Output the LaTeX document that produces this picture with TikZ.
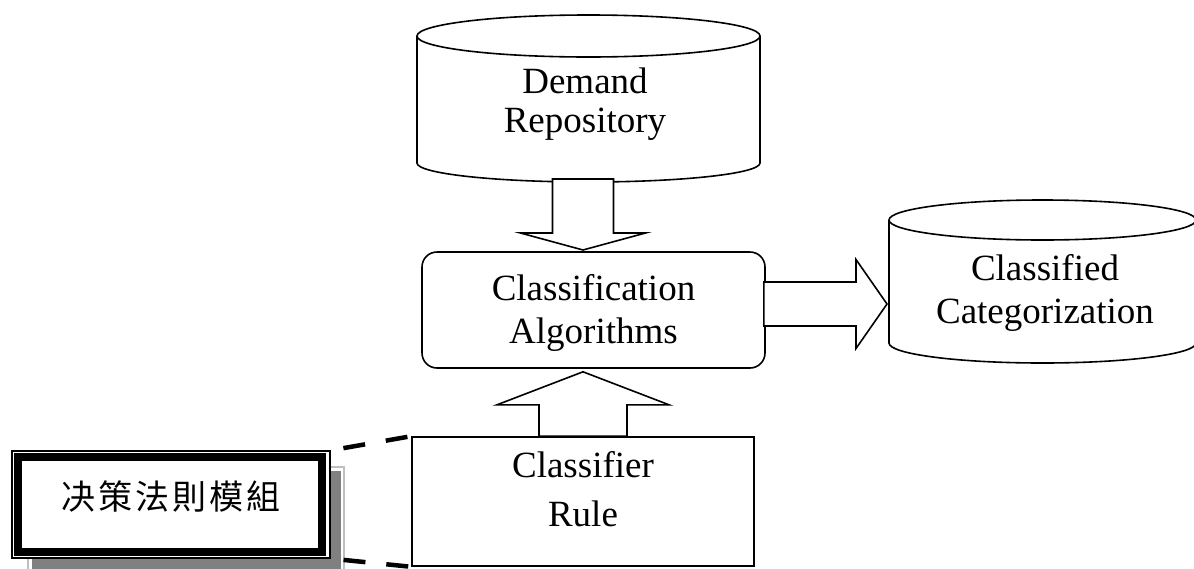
\documentclass[tikz,border=0pt]{standalone}
\usepackage{fontspec}
\setmainfont{Liberation Serif}
\newfontfamily\cjk{Noto Sans CJK TC}
\usetikzlibrary{calc}

\tikzset{
  outline/.style={draw=black, line width=1.6pt},
  txt/.style={align=center, inner sep=0pt, font=\fontsize{37}{43}\selectfont},
  plainbox/.style={outline, fill=white, inner sep=0pt},
  fatarrow/.style={outline, fill=white, line join=miter},
  linkdash/.style={line width=4.5pt, dash pattern=on 22pt off 21pt, dash phase=30pt},
}

% block arrow: tail, tip, shaft half-width, head half-width, head length
\newcommand\fatarrow[5]{%
  \coordinate (fa-base) at ($(#2)!#5!(#1)$);
  \draw[fatarrow] ($(#1)!#3!90:(#2)$) -- ($(fa-base)!#3!90:(#2)$)
    -- ($(fa-base)!#4!90:(#2)$) -- (#2) -- ($(fa-base)!#4!-90:(#2)$)
    -- ($(fa-base)!#3!-90:(#2)$) -- ($(#1)!#3!-90:(#2)$) -- cycle;
}

\begin{document}
\begin{tikzpicture}[x=1pt, y=1pt]
\useasboundingbox (0,0) rectangle (1194,-568);

% Demand Repository store
\draw[outline, fill=white] (417,-36) -- (417,-163)
  arc[start angle=180, end angle=360, x radius=171.5, y radius=19] -- (760,-36);
\draw[outline] (588.5,-36) ellipse [x radius=171.5, y radius=21];
\node[txt, font=\fontsize{37}{39}\selectfont] (demand) at (585,-104) {Demand\\Repository};

% Classified Categorization store
\draw[outline, fill=white] (889,-220) -- (889,-343)
  arc[start angle=180, end angle=360, x radius=153.5, y radius=20] -- (1196,-220);
\draw[outline] (1042.5,-220) ellipse [x radius=153.5, y radius=20];
\node[txt] (classified) at (1045,-293) {Classified\\Categorization};

% Classification Algorithms
\node[plainbox, rounded corners=15pt, minimum width=343pt, minimum height=116pt] (alg) at (593.5,-310) {};
\node[txt] (alg-text) at ($(alg.center)+(0,-3)$) {Classification\\Algorithms};

% Classifier Rule
\node[plainbox, minimum width=342pt, minimum height=129pt] (rule) at (583,-501.5) {};
\node[txt, font=\fontsize{37}{49}\selectfont] (rule-text) at ($(rule.center)+(0,12.6)$) {Classifier\\Rule};

% module box with drop shadow
\draw[draw=gray!50, line width=1.2pt, fill=white] (28,-467) rectangle (344,-585);
\fill[gray] (31.5,-470.5) rectangle (340.5,-585);
\node[draw=black, line width=1.2pt, fill=white, inner sep=0pt,
      minimum width=318pt, minimum height=107pt] (module) at (171,-504.5) {};
\draw[line width=8pt] ($(module.north west)+(7,-6.5)$) rectangle ($(module.south east)+(-9,7)$);
\node[inner sep=0pt, font=\cjk\fontsize{34}{34}\selectfont] (module-text) at (171,-496)
  {决\hspace{3pt}策\hspace{3pt}法\hspace{3pt}則\hspace{3pt}模\hspace{3pt}組};

% dashed links from the module to the rule box
\draw[linkdash] (module.north east) -- (rule.north west);
\draw[linkdash] (module.south east) -- (rule.south west);

% flow arrows
\coordinate (d-tail) at (583,-179);
\coordinate (d-tip) at (583,-250);
\fatarrow{d-tail}{d-tip}{30.5pt}{62.5pt}{17pt}

\coordinate (u-tail) at (rule.north);
\coordinate (u-tip) at ($(alg.south -| rule.north)+(0,-3)$);
\fatarrow{u-tail}{u-tip}{44pt}{86pt}{33pt}

\coordinate (r-tail) at ($(alg.east)+(-2,6)$);
\coordinate (r-tip) at (887,-304);
\fatarrow{r-tail}{r-tip}{22pt}{44.5pt}{31pt}
\end{tikzpicture}
\end{document}
